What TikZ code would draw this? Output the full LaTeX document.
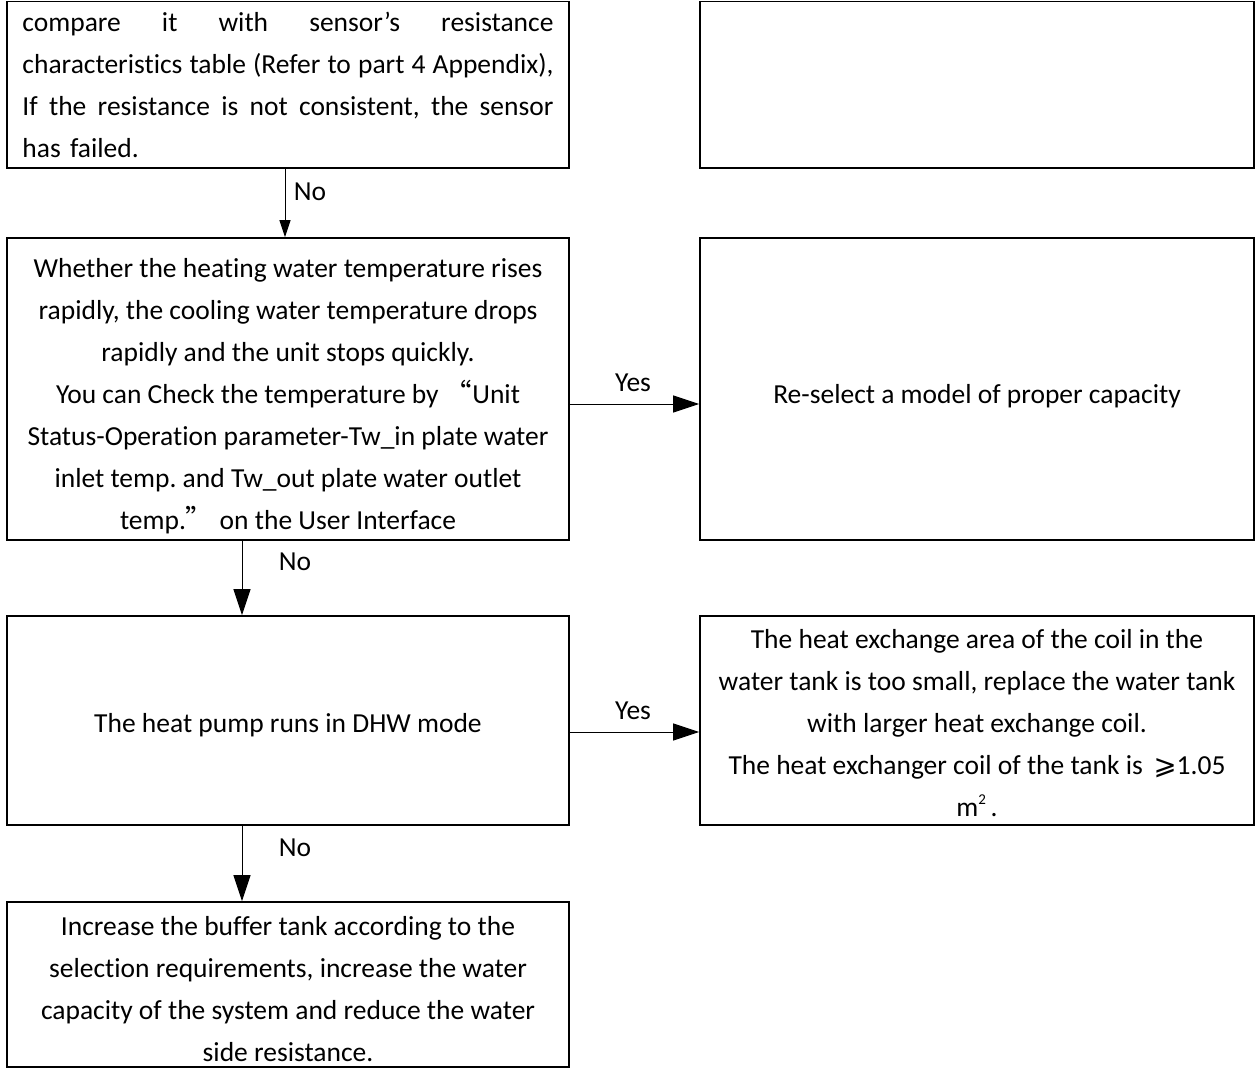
\documentclass[tikz,border=0pt]{standalone}
\usepackage{fontspec}
\setmainfont{Carlito}[Ligatures={NoCommon}]
\newfontfamily\cjkq{Noto Sans CJK SC}
\newfontfamily\symf{DejaVu Sans}
\usetikzlibrary{arrows.meta}
\frenchspacing
\newcommand{\fsz}{\fontsize{27.5bp}{42bp}\selectfont\frenchspacing}
\newcommand{\jline}[1]{\leavevmode\hbox to 531bp{\spaceskip=0.12em plus 1fil #1}}
\newcommand{\sqm}{m\raisebox{0.42em}{\fontsize{15bp}{15bp}\selectfont 2}}
\begin{document}
\begin{tikzpicture}[x=1bp,y=-1bp,
  fbox/.style={draw, line width=1.6bp, inner sep=0pt, align=center, font=\fsz},
  lbl/.style={font=\fsz, inner sep=0pt},
  arr/.style={line width=1bp, -{Triangle[length=26bp,width=17bp]}},
  arrs/.style={line width=1bp, -{Triangle[length=17bp,width=11bp]}}]
\useasboundingbox (0,0) rectangle (1255,1068);
\fill[white] (0,0) rectangle (1255,1068);
\node[fbox, minimum width=562bp, minimum height=166.5bp, text width=531bp, align=left] (A) at (288,84.75)
 {\jline{compare it with sensor’s resistance}\\
  \jline{characteristics table (Refer to part 4 Appendix),}\\
  \jline{If the resistance is not consistent, the sensor}\\
  has failed.};
\node[fbox, minimum width=554bp, minimum height=166.5bp] (B) at (977,84.75) {};
\node[fbox, minimum width=562bp, minimum height=302bp] (C) at (288,389)
 {\rule{0pt}{34bp}Whether the heating water temperature rises\\
  rapidly, the cooling water temperature drops\\
  rapidly and the unit stops quickly.\\
  You can Check the temperature by {\cjkq “}Unit\\
  Status-Operation parameter-Tw\_in plate water\\
  inlet temp. and Tw\_out plate water outlet\\
  temp.{\cjkq ”} on the User Interface};
\node[fbox, minimum width=554bp, minimum height=302bp] (D) at (977,389)
 {\rule{0pt}{34bp}Re-select a model of proper capacity};
\node[fbox, minimum width=562bp, minimum height=209bp] (E) at (288,720.5)
 {\rule{0pt}{28bp}The heat pump runs in DHW mode};
\node[fbox, minimum width=554bp, minimum height=209bp] (F) at (977,720.5)
 {\rule{0pt}{24bp}The heat exchange area of the coil in the\\
  water tank is too small, replace the water tank\\
  with larger heat exchange coil.\\
  The heat exchanger coil of the tank is \,{\symf ⩾}1.05\\
  \sqm\,.};
\node[fbox, minimum width=562bp, minimum height=165bp] (G) at (288,984.5)
 {\rule{0pt}{28bp}Increase the buffer tank according to the\\
  selection requirements, increase the water\\
  capacity of the system and reduce the water\\
  side resistance.};
\coordinate (col) at (242,0);
\coordinate (col1) at (285,0);
\coordinate (yes1) at (0,404);
\coordinate (yes2) at (0,732);
\draw[arrs] (A.south -| col1) -- (C.north -| col1);
\draw[arr] (C.south -| col) -- (E.north -| col);
\draw[arr] (E.south -| col) -- (G.north -| col);
\draw[arr] (C.east |- yes1) -- (D.west |- yes1);
\draw[arr] (E.east |- yes2) -- (F.west |- yes2);
\node[lbl] (n1) at (310,192) {No};
\node[lbl] (n2) at (295,562) {No};
\node[lbl] (n3) at (295,848) {No};
\node[lbl] (y1) at (633,383) {Yes};
\node[lbl] (y2) at (633,711) {Yes};
\end{tikzpicture}
\end{document}
